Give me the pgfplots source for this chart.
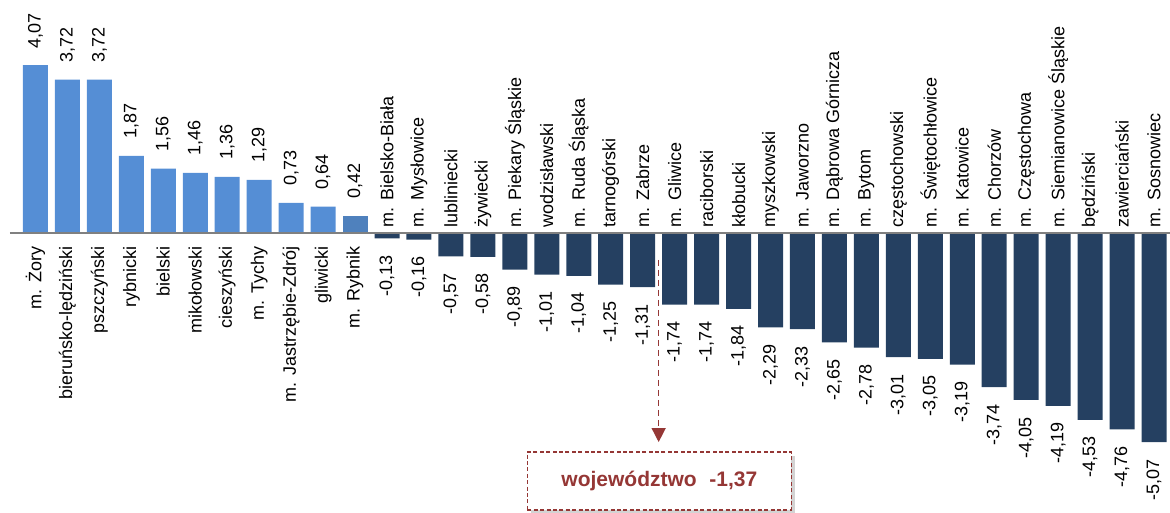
\documentclass[border=0pt]{standalone}
\usepackage{pgfplots}
\usepackage{pgfplotstable}
\pgfplotsset{compat=1.18}
\usepackage{fontspec}
\setmainfont{Liberation Sans}
\usetikzlibrary{arrows.meta,shadows}
\definecolor{posblue}{HTML}{558ED5}
\definecolor{rybblue}{HTML}{4F81BD}
\definecolor{negnavy}{HTML}{254061}
\definecolor{boxred}{HTML}{953735}
\newcommand\lbl{\fontsize{9}{10}\selectfont}

\pgfplotstableread[col sep=semicolon]{
x;y;lab;name
0;4.07;4,07;m. Żory
1;3.72;3,72;bieruńsko-lędziński
2;3.72;3,72;pszczyński
3;1.87;1,87;rybnicki
4;1.56;1,56;bielski
5;1.46;1,46;mikołowski
6;1.36;1,36;cieszyński
7;1.29;1,29;m. Tychy
8;0.73;0,73;m. Jastrzębie-Zdrój
9;0.64;0,64;gliwicki
}\pos

\pgfplotstableread[col sep=semicolon]{
x;y;lab;name
10;0.42;0,42;m. Rybnik
}\ryb

\pgfplotstableread[col sep=semicolon]{
x;y;lab;name
11;-0.13;-0,13;m. Bielsko-Biała
12;-0.16;-0,16;m. Mysłowice
13;-0.57;-0,57;lubliniecki
14;-0.58;-0,58;żywiecki
15;-0.89;-0,89;m. Piekary Śląskie
16;-1.01;-1,01;wodzisławski
17;-1.04;-1,04;m. Ruda Śląska
18;-1.25;-1,25;tarnogórski
19;-1.31;-1,31;m. Zabrze
20;-1.74;-1,74;m. Gliwice
21;-1.74;-1,74;raciborski
22;-1.84;-1,84;kłobucki
23;-2.29;-2,29;myszkowski
24;-2.33;-2,33;m. Jaworzno
25;-2.65;-2,65;m. Dąbrowa Górnicza
26;-2.78;-2,78;m. Bytom
27;-3.01;-3,01;częstochowski
28;-3.05;-3,05;m. Świętochłowice
29;-3.19;-3,19;m. Katowice
30;-3.74;-3,74;m. Chorzów
31;-4.05;-4,05;m. Częstochowa
32;-4.19;-4,19;m. Siemianowice Śląskie
33;-4.53;-4,53;będziński
34;-4.76;-4,76;zawierciański
35;-5.07;-5,07;m. Sosnowiec
}\neg

\begin{document}
\begin{tikzpicture}
\begin{axis}[
  scale only axis, width=585pt, height=256.5pt,
  xmin=-1.11, xmax=35.5, ymin=-6.79, ymax=5.65,
  axis lines=none, clip=false,
  font=\lbl,
]
\coordinate (bbSW) at (rel axis cs:0,0);
\coordinate (bbNE) at (rel axis cs:1,1);

% positive bars
\addplot[ybar, bar width=12.5pt, bar shift=0pt, fill=posblue, draw=none,
  nodes near coords, point meta=explicit symbolic,
  every node near coord/.append style={rotate=90, anchor=west, inner xsep=8.3pt, inner ysep=0pt, font=\lbl, text=black}]
  table[x=x, y=y, meta=lab]{\pos};
\addplot[ybar, bar width=12.5pt, bar shift=0pt, fill=rybblue, draw=none,
  nodes near coords, point meta=explicit symbolic,
  every node near coord/.append style={rotate=90, anchor=west, inner xsep=8.3pt, inner ysep=0pt, font=\lbl, text=black}]
  table[x=x, y=y, meta=lab]{\ryb};
% negative bars
\addplot[ybar, bar width=12.5pt, bar shift=0pt, fill=negnavy, draw=none,
  nodes near coords, point meta=explicit symbolic,
  every node near coord/.append style={rotate=90, anchor=east, inner xsep=8.3pt, inner ysep=0pt, font=\lbl, text=black}]
  table[x=x, y=y, meta=lab]{\neg};

% category names
\addplot[draw=none, mark=none, nodes near coords, point meta=explicit symbolic,
  every node near coord/.append style={rotate=90, anchor=east, inner xsep=6.5pt, inner ysep=0pt, font=\lbl, text=black}]
  table[x=x, y expr=0, meta=name]{\pos};
\addplot[draw=none, mark=none, nodes near coords, point meta=explicit symbolic,
  every node near coord/.append style={rotate=90, anchor=east, inner xsep=6.5pt, inner ysep=0pt, font=\lbl, text=black}]
  table[x=x, y expr=0, meta=name]{\ryb};
\addplot[draw=none, mark=none, nodes near coords, point meta=explicit symbolic,
  every node near coord/.append style={rotate=90, anchor=west, inner xsep=2.6pt, inner ysep=0pt, font=\lbl, text=black}]
  table[x=x, y expr=0, meta=name]{\neg};

% zero line
\draw[color=gray, line width=1.4pt] (axis cs:-0.8,0) -- (axis cs:35.5,0);

% voivodeship marker
\draw[boxred, line width=0.7pt, dash pattern=on 3pt off 2pt,
  -{Triangle[width=7pt,length=7pt]}] (axis cs:19.5,-0.65) -- (axis cs:19.5,-5.07);
\node[draw=boxred, dash pattern=on 2pt off 1.2pt, line width=0.8pt, fill=white,
  minimum width=132pt, minimum height=29pt,
  drop shadow={opacity=0.35, shadow xshift=2pt, shadow yshift=-2pt},
  font=\bfseries\fontsize{10.5}{12}\selectfont, text=boxred]
  at (axis cs:19.52,-6.01) {województwo\hspace{0.6em}-1,37};
\end{axis}
\pgfresetboundingbox
\useasboundingbox (bbSW) rectangle (bbNE);
\end{tikzpicture}
\end{document}
